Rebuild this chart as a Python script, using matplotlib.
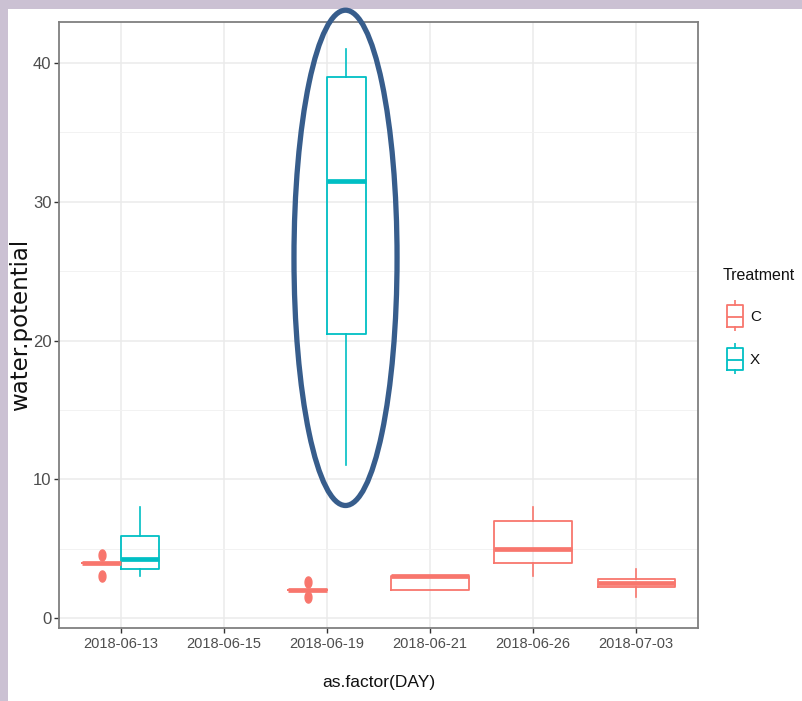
import numpy as np
import matplotlib.pyplot as plt
from matplotlib.patches import Ellipse, Rectangle

plt.rcParams['font.family'] = ['Liberation Sans', 'DejaVu Sans']

# categories on the x axis
days = ['2018-06-13', '2018-06-15', '2018-06-19', '2018-06-21', '2018-06-26', '2018-07-03']

# Treatment C : box statistics per day (index into days)
c_idx = [0, 2, 3, 4, 5]
c_lo = [4.0, 2.0, 2.0, 3.0, 1.5]
c_q1 = [4.0, 2.0, 2.0, 4.0, 2.25]
c_med = [4.0, 2.0, 3.0, 5.0, 2.5]
c_q3 = [4.0, 2.0, 3.0, 7.0, 2.8]
c_hi = [4.0, 2.0, 3.0, 8.0, 3.5]
c_out = [[4.55, 3.0], [2.6, 1.5], [], [], []]

# Treatment X
x_idx = [0, 2]
x_lo = [3.0, 11.0]
x_q1 = [3.5, 20.5]
x_med = [4.25, 31.5]
x_q3 = [5.9, 39.0]
x_hi = [8.0, 41.0]
x_out = [[], []]

col_c = '#F8766D'
col_x = '#00BFC4'

W, H = 802, 701
fig = plt.figure(figsize=(W / 100, H / 100), dpi=100, facecolor='#cbc1d3')
fig.patches.append(Rectangle((8 / W, 0), 1, (H - 9) / H, transform=fig.transFigure,
                             facecolor='white', edgecolor='none', zorder=-10))

ax = fig.add_axes([59 / W, (H - 628) / H, 639 / W, 606 / H])

# filled oval used for the outlier points
t = np.linspace(0, 2 * np.pi, 41)
oval = np.column_stack([0.62 * np.cos(t), np.sin(t)])


def make_stats(lo, q1, med, q3, hi, out):
    return [dict(whislo=a, q1=b, med=m, q3=c, whishi=d, fliers=f)
            for a, b, m, c, d, f in zip(lo, q1, med, q3, hi, out)]


def draw_group(stats, idx, others, col, side):
    pos, wid = [], []
    for i in idx:
        if i in others:
            pos.append(i + 1 + side * 0.1875)
            wid.append(0.375)
        else:
            pos.append(i + 1)
            wid.append(0.75)
    ax.bxp(stats, positions=pos, widths=wid, showcaps=False,
           boxprops=dict(color=col, linewidth=1.3),
           whiskerprops=dict(color=col, linewidth=1.2),
           medianprops=dict(color=col, linewidth=3.4, solid_capstyle='butt'),
           flierprops=dict(marker=oval, markerfacecolor=col, markeredgecolor=col,
                           markersize=8, linestyle='none'),
           manage_ticks=False)


draw_group(make_stats(c_lo, c_q1, c_med, c_q3, c_hi, c_out), c_idx, x_idx, col_c, -1)
draw_group(make_stats(x_lo, x_q1, x_med, x_q3, x_hi, x_out), x_idx, c_idx, col_x, +1)

ax.set_xlim(0.4, 6.6)
ax.set_ylim(-0.72, 42.96)
ax.set_xticks(range(1, len(days) + 1))
ax.set_xticklabels(days)
ax.set_yticks([0, 10, 20, 30, 40])
ax.set_yticks([5, 15, 25, 35], minor=True)
ax.grid(which='major', color='#ebebeb', linewidth=1.1)
ax.grid(which='minor', axis='y', color='#f2f2f2', linewidth=0.7)
ax.set_axisbelow(True)
for s in ax.spines.values():
    s.set_color('#7f7f7f')
    s.set_linewidth(1.3)
ax.tick_params(which='major', length=3.5, width=1, color='#333333',
               labelcolor='#4d4d4d', labelsize=10.5, pad=3)
ax.tick_params(axis='y', which='major', labelsize=12, pad=2)
ax.tick_params(which='minor', length=0)

ax.set_xlabel('as.factor(DAY)', fontsize=12.5, color='#111111', labelpad=17)
ax.set_ylabel('water.potential', fontsize=16.5, color='#111111', labelpad=0.5,
              family='DejaVu Sans')

# highlight ring around 2018-06-19
ax.add_patch(Ellipse((3.18, 25.96), 1.0, 35.7, fill=False, edgecolor='#375d8c',
                     linewidth=3.8, clip_on=False, zorder=6))

# legend
fig.text(723 / W, 1 - 276 / H, 'Treatment', fontsize=11.5, va='center', color='#111111')
for col, lab, top in [(col_c, 'C', 300), (col_x, 'X', 343)]:
    kax = fig.add_axes([726 / W, 1 - (top + 31) / H, 18 / W, 31 / H])
    kax.bxp([dict(whislo=0, q1=4, med=14, q3=26, whishi=31, fliers=[])],
            positions=[0], widths=[1.0], showcaps=False,
            boxprops=dict(color=col, linewidth=1.3),
            whiskerprops=dict(color=col, linewidth=1.2),
            medianprops=dict(color=col, linewidth=1.3),
            manage_ticks=False)
    kax.set_xlim(-0.55, 0.55)
    kax.set_ylim(0, 31)
    kax.axis('off')
    fig.text(750 / W, 1 - (top + 17) / H, lab, fontsize=11, va='center', color='#111111')

fig.savefig('out.png', dpi=100)
